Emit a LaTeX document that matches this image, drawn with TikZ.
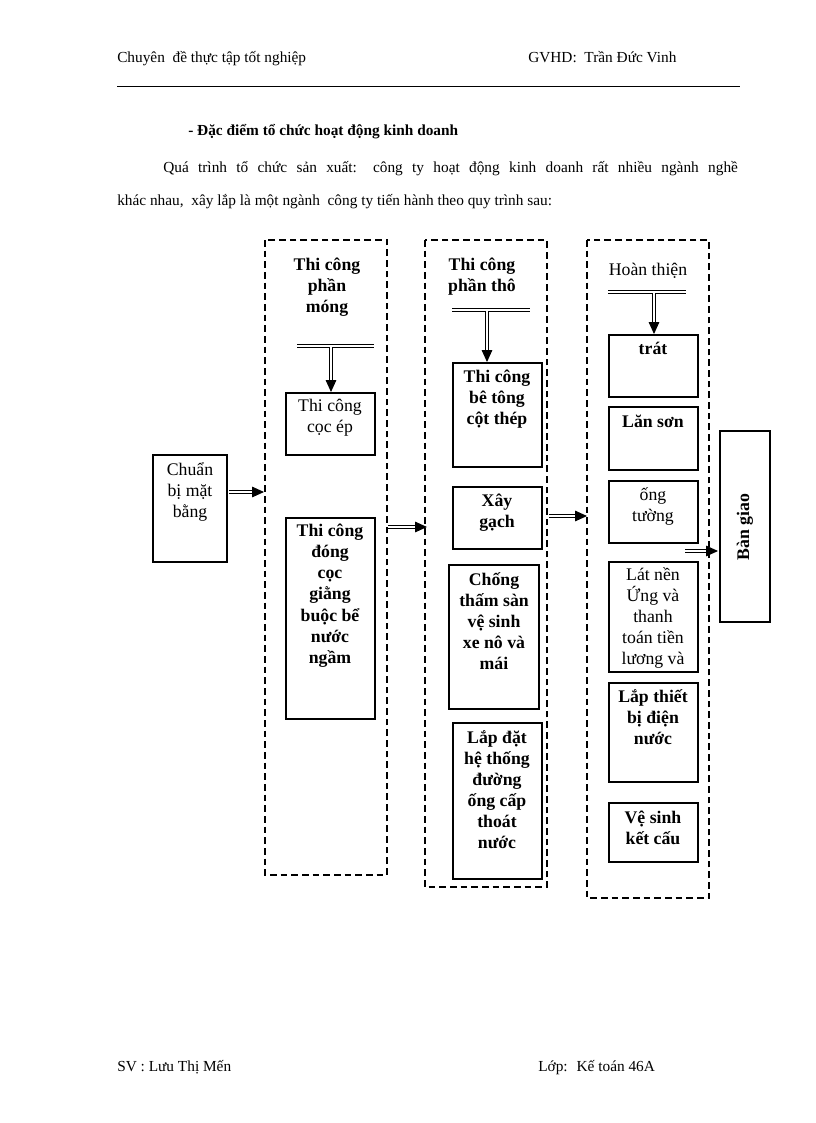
\documentclass[tikz,border=0pt]{standalone}
\usepackage{fontspec}
\setmainfont{Liberation Serif}
\usetikzlibrary{arrows.meta,calc}
\begin{document}
\begin{tikzpicture}[x=0.75pt,y=-0.75pt,
  dbox/.style={draw,dash pattern=on 5pt off 3pt,line width=0.9pt},
  pbox/.style={draw,line width=0.9pt},
  txt/.style={align=center,font=\fontsize{13.3}{15.8}\selectfont,inner sep=0pt},
  btxt/.style={txt,font=\fontsize{13.3}{15.8}\selectfont\bfseries},
  dline/.style={double,double distance=1.6pt,line width=0.7pt},
  tip/.style={-{Triangle[length=9pt,width=8pt]},line width=0.7pt},
  hd/.style={anchor=base west,font=\fontsize{11.5}{13}\selectfont,inner sep=0pt}]
\useasboundingbox (0,0) rectangle (816,1123);
\node[hd] (h1) at (117,63) {Chuyên\ \ đề thực tập tốt nghiệp};
\node[hd] (h2) at (528,63) {GVHD: \ Trần Đức Vinh};
\draw[line width=0.6pt] (117,86) -- (740,86);
\node[hd,font=\fontsize{11.5}{13}\selectfont\bfseries] (t1) at (188,136) {- Đặc điểm tổ chức hoạt động kinh doanh};
\node[hd] (p1) at (163,173) {\makebox[431pt][s]{Quá trình tổ chức sản xuất: công ty hoạt động kinh doanh rất nhiều ngành nghề}};
\node[hd] (p2) at (117,205) {khác nhau, \ xây lắp là một ngành \ công ty tiến hành theo quy trình sau:};
% dashed groups
\draw[dbox] (265,240) rectangle (387,875);
\draw[dbox] (425,240) rectangle (547,887);
\draw[dbox] (587,240) rectangle (709,898);
% start
\draw[pbox] (153,455) rectangle (227,562);
\node[txt,anchor=north] (cb) at (190,462) {Chuẩn\\bị mặt\\bằng};
\coordinate (a1s) at (229,492); \coordinate (a1e) at (264,492);
% A
\node[btxt,anchor=north] (ta) at (327,258) {Thi công\\phần\\móng};
\draw[dline] (297,346) -- (374,346);
\coordinate (aa) at (331,347); \coordinate (ab) at (331,392);
\draw[pbox] (286,393) rectangle (375,455);
\node[txt,anchor=north] (a1) at (330,399) {Thi công\\cọc ép};
\draw[pbox] (286,518) rectangle (375,719);
\node[btxt,anchor=north] (a2) at (330,524) {Thi công\\đóng\\cọc\\giằng\\buộc bể\\nước\\ngầm};
\coordinate (a2s) at (388,527); \coordinate (a2e) at (427,527);
% B
\node[btxt,anchor=north] (tb) at (482,258) {Thi công\\phần thô};
\draw[dline] (452,310) -- (530,310);
\coordinate (ba) at (487,311); \coordinate (bb) at (487,362);
\draw[pbox] (453,363) rectangle (542,467);
\node[btxt,anchor=north] (b1) at (497,370) {Thi công\\bê tông\\cột thép};
\draw[pbox] (453,487) rectangle (542,549);
\node[btxt,anchor=north] (b2) at (497,494) {Xây\\gạch};
\draw[pbox] (449,565) rectangle (539,709);
\node[btxt,anchor=north] (b3) at (494,572) {Chống\\thấm sàn\\vệ sinh\\xe nô và\\mái};
\draw[pbox] (453,723) rectangle (542,879);
\node[btxt,anchor=north] (b4) at (497,730) {Lắp đặt\\hệ thống\\đường\\ống cấp\\thoát\\nước};
\coordinate (a3s) at (549,516); \coordinate (a3e) at (587,516);
% C
\node[txt,anchor=north] (tc) at (648,263) {Hoàn thiện};
\draw[dline] (608,292) -- (686,292);
\coordinate (ca) at (654,293); \coordinate (cb2) at (654,334);
\draw[pbox] (609,335) rectangle (698,397);
\node[btxt,anchor=north] (c1) at (653,342) {trát};
\draw[pbox] (609,407) rectangle (698,470);
\node[btxt,anchor=north] (c2) at (653,415) {Lăn sơn};
\draw[pbox] (609,481) rectangle (698,543);
\node[txt,anchor=north] (c3) at (653,487) {ống\\tường};
\draw[pbox] (609,562) rectangle (698,672);
\node[txt,anchor=north] (c4) at (653,567) {Lát nền\\Ứng và\\thanh\\toán tiền\\lương và};
\draw[pbox] (609,683) rectangle (698,782);
\node[btxt,anchor=north] (c5) at (653,689) {Lắp thiết\\bị điện\\nước};
\draw[pbox] (609,803) rectangle (698,862);
\node[btxt,anchor=north] (c6) at (653,811) {Vệ sinh\\kết cấu};
\draw[pbox] (720,431) rectangle (770,622);
\node[btxt,rotate=90] (bg) at (745,527) {Bàn giao};
\coordinate (a4s) at (685,551); \coordinate (a4e) at (718,551);
% arrows
\foreach \s/\e in {a1s/a1e,a2s/a2e,a3s/a3e,a4s/a4e}{
  \draw[dline,shorten >=8pt] (\s) -- (\e);
  \draw[tip] ($(\e)+(-10,0)$) -- (\e);}
\foreach \s/\e in {aa/ab,ba/bb,ca/cb2}{
  \draw[dline,shorten >=8pt] (\s) -- (\e);
  \draw[tip] ($(\e)+(0,-10)$) -- (\e);}
\node[hd] (f1) at (117,1071) {SV : Lưu Thị Mến};
\node[hd] (f2) at (538,1071) {Lớp: \ Kế toán 46A};
\end{tikzpicture}
\end{document}
